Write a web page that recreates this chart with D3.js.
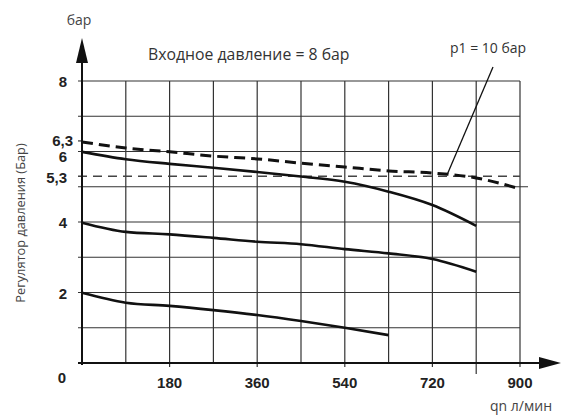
<!DOCTYPE html>
<html>
<head>
<meta charset="utf-8">
<script src="https://cdn.jsdelivr.net/npm/d3@7"></script>
<style>
  body { margin: 0; background: #fff; }
  text { font-family: "Open Sans", sans-serif; }
  .tick-label { font-family: "Liberation Sans", Arial, sans-serif; font-weight: bold; font-size: 15px; fill: #222; }
</style>
</head>
<body>
<div id="chart"></div>
<script>
// flow values, l/min
var flow = [0, 90, 180, 270, 360, 450, 540, 630, 720, 810, 900];

// p1 = 10 bar, dashed
var p10 = [6.27, 6.10, 5.99, 5.87, 5.79, 5.67, 5.56, 5.45, 5.39, 5.25, 4.94];
// inlet 8 bar, set points 6 / 4 / 2
var set6 = [5.99, 5.78, 5.65, 5.54, 5.42, 5.29, 5.14, 4.86, 4.48, 3.89];
var set4 = [3.98, 3.72, 3.65, 3.55, 3.44, 3.37, 3.23, 3.11, 2.95, 2.59];
var set2 = [1.99, 1.71, 1.62, 1.50, 1.36, 1.19, 1.00, 0.79];

var xTicks = [180, 360, 540, 720, 900];
var yTicks = [8, 6.3, 6, 5.3, 4, 2];
var yTickLabels = ["8", "6,3", "6", "5,3", "4", "2"];
var inletLine = 5.3;

var width = 561, height = 417;
var margins = {left: 82, right: 41, top: 81, bottom: 54};

var x = d3.scaleLinear().domain([0, 900]).range([margins.left, width - margins.right]);
var y = d3.scaleLinear().domain([0, 8]).range([height - margins.bottom, margins.top]);

var svg = d3.select('#chart')
    .append('svg')
        .attr('width', width)
        .attr('height', height);

// grid
var grid = svg.append('g').attr('stroke', '#333').attr('stroke-width', 1.2);
grid.selectAll('line.v')
    .data(d3.range(90, 901, 90))
    .enter()
    .append('line')
        .attr('x1', function(d) { return x(d); })
        .attr('x2', function(d) { return x(d); })
        .attr('y1', y(8))
        .attr('y2', function(d) {
            if (d === 810) return y(0) + 11;
            return d % 180 === 0 ? y(0) + 4 : y(0);
        });
grid.selectAll('line.h')
    .data(d3.range(1, 9))
    .enter()
    .append('line')
        .attr('x1', x(0) - 4)
        .attr('x2', function(d) { return d === 5 ? x(900) + 8 : x(900); })
        .attr('y1', function(d) { return y(d); })
        .attr('y2', function(d) { return y(d); });
// 6,3 tick
grid.append('line')
    .attr('x1', x(0) - 4).attr('x2', x(0))
    .attr('y1', y(6.3)).attr('y2', y(6.3));

// 5,3 thin dashed line
svg.append('line')
    .attr('x1', x(0) - 4).attr('x2', x(900))
    .attr('y1', y(inletLine)).attr('y2', y(inletLine))
    .attr('stroke', '#444').attr('stroke-width', 1.4)
    .attr('stroke-dasharray', '9,6');

// axes
svg.append('line')
    .attr('x1', x(0)).attr('x2', x(0))
    .attr('y1', y(0) + 2).attr('y2', 60)
    .attr('stroke', '#111').attr('stroke-width', 2);
svg.append('path')
    .attr('d', 'M' + (x(0) - 6) + ',63L' + x(0) + ',38L' + (x(0) + 6) + ',63Z')
    .attr('fill', '#111');
svg.append('line')
    .attr('x1', x(0) - 4).attr('x2', 542)
    .attr('y1', y(0)).attr('y2', y(0))
    .attr('stroke', '#111').attr('stroke-width', 2);
svg.append('path')
    .attr('d', 'M539,' + (y(0) - 6) + 'L561,' + y(0) + 'L539,' + (y(0) + 6) + 'Z')
    .attr('fill', '#111');

// curves
var line = d3.line()
    .x(function(d, i) { return x(flow[i]); })
    .y(function(d) { return y(d); })
    .curve(d3.curveMonotoneX);

[set6, set4, set2].forEach(function(s) {
    svg.append('path')
        .attr('d', line(s))
        .attr('fill', 'none')
        .attr('stroke', '#111')
        .attr('stroke-width', 2.6);
});
svg.append('path')
    .attr('d', line(p10))
    .attr('fill', 'none')
    .attr('stroke', '#111')
    .attr('stroke-width', 3)
    .attr('stroke-dasharray', '11,6');

// leader line to p1 label
svg.append('line')
    .attr('x1', 493).attr('y1', 67)
    .attr('x2', x(750)).attr('y2', y(5.33))
    .attr('stroke', '#111').attr('stroke-width', 1.3);

// tick labels
svg.selectAll('text.xt')
    .data(xTicks)
    .enter()
    .append('text')
        .attr('class', 'tick-label')
        .attr('x', function(d) { return x(d); })
        .attr('y', y(0) + 25)
        .attr('text-anchor', 'middle')
        .text(function(d) { return d; });
svg.append('text')
    .attr('class', 'tick-label')
    .attr('x', 62).attr('y', y(0) + 20)
    .attr('text-anchor', 'middle')
    .text('0');
svg.selectAll('text.yt')
    .data(yTicks)
    .enter()
    .append('text')
        .attr('class', 'tick-label')
        .attr('x', function(d) { return d === 6.3 ? 73 : 67; })
        .attr('y', function(d) {
            if (d === 6) return y(d) + 10;
            if (d === 5.3) return y(d) + 7;
            if (d === 6.3) return y(d) + 5;
            return y(d) + 6;
        })
        .attr('text-anchor', 'end')
        .text(function(d, i) { return yTickLabels[i]; });

// texts
svg.append('text')
    .attr('x', 79).attr('y', 25)
    .attr('text-anchor', 'middle')
    .attr('font-size', 14).attr('fill', '#444')
    .text('бар');
svg.append('text')
    .attr('x', 148).attr('y', 60)
    .attr('font-size', 15.8).attr('fill', '#333')
    .text('Входное давление = 8 бар');
svg.append('text')
    .attr('x', 450).attr('y', 53)
    .attr('font-size', 14).attr('fill', '#333')
    .text('p1 = 10 бар');
svg.append('text')
    .attr('x', 552).attr('y', 411)
    .attr('text-anchor', 'end')
    .attr('font-size', 14).attr('fill', '#444')
    .text('qn л/мин');
svg.append('text')
    .attr('transform', 'translate(25,223) rotate(-90)')
    .attr('text-anchor', 'middle')
    .attr('font-size', 12.8).attr('fill', '#444')
    .text('Регулятор давления (Бар)');
</script>
</body>
</html>
